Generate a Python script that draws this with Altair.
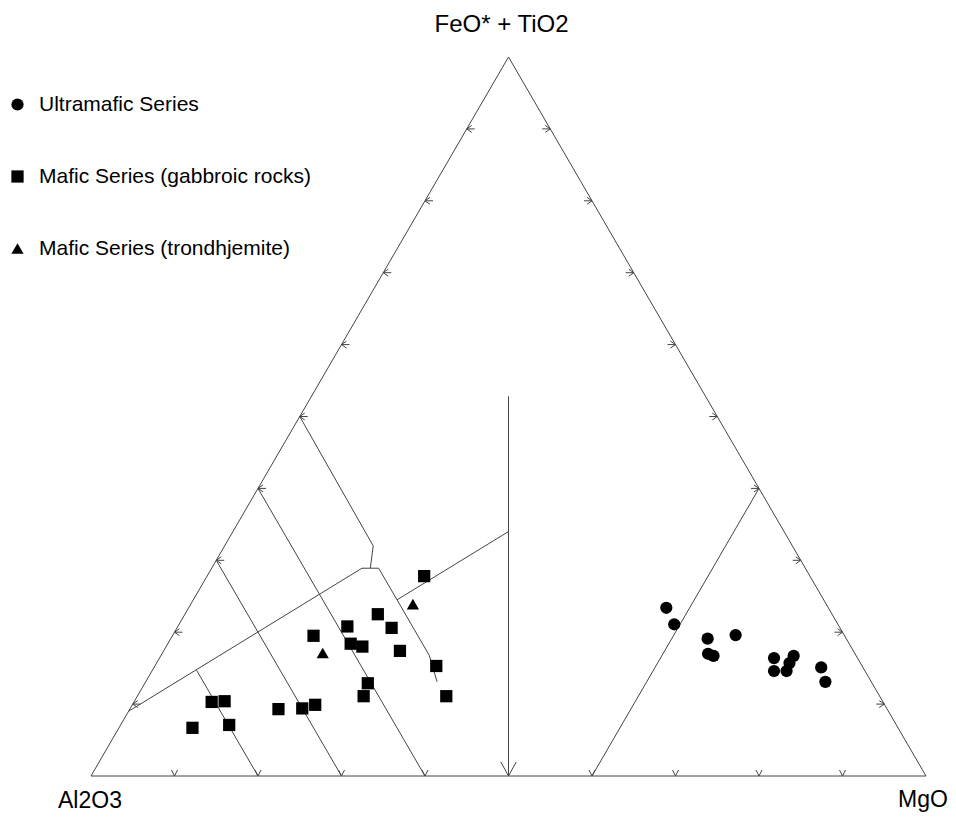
import altair as alt
import pandas as pd

# ---- data: ternary compositions in % (Al2O3, FeO*+TiO2, MgO) ----
series_names = ["Ultramafic Series", "Mafic Series (gabbroic rocks)", "Mafic Series (trondhjemite)"]

ultra_al = [19.4, 19.6, 16.6, 13.0, 17.6, 17.1, 10.0, 10.9, 9.4, 7.5, 8.5, 5.0, 5.5]
ultra_fe = [23.4, 21.1, 19.1, 19.6, 17.0, 16.7, 16.4, 14.6, 14.6, 16.7, 15.7, 15.1, 13.1]
ultra_mg = [57.2, 59.3, 64.3, 67.4, 65.4, 66.2, 73.6, 74.5, 76.0, 75.8, 75.8, 79.9, 81.4]

gab_al = [46.2, 54.4, 58.9, 53.7, 63.6, 59.7, 58.5, 54.3, 51.0, 60.4, 61.8, 51.9, 80.4, 78.8, 68.2, 72.9, 70.0, 79.9, 84.5]
gab_fe = [27.8, 22.5, 20.8, 20.6, 19.5, 18.4, 18.0, 17.4, 15.3, 12.9, 11.1, 11.1, 10.3, 10.4, 9.9, 9.3, 9.4, 7.1, 6.7]
gab_mg = [26.0, 23.1, 20.3, 25.7, 16.9, 21.9, 23.5, 28.3, 33.7, 26.7, 27.1, 37.0, 9.3, 10.8, 21.9, 17.8, 20.6, 13.0, 8.8]

tro_al = [49.5, 63.7]
tro_fe = [23.9, 17.1]
tro_mg = [26.6, 19.2]

# field boundaries: vertices (Al2O3, FeO*+TiO2, MgO)
outline = [(100, 0, 0), (0, 0, 100), (0, 100, 0), (100, 0, 0)]
line_a = [(50, 50, 0), (50.2, 32.0, 17.8), (52.1, 28.9, 19.0)]
line_b1 = [(91, 9, 0), (53.1, 28.9, 18.0), (51.1, 28.9, 20.0), (51.1, 16.8, 32.1), (52.0, 13.1, 34.9)]
line_b2 = [(51.1, 24.5, 24.4), (33.0, 34.0, 33.0)]
line_v = [(23.6, 52.8, 23.6), (50, 0, 50)]
line_c = [(60, 40, 0), (60, 0, 40)]
line_d = [(70, 30, 0), (70, 0, 30)]
line_e = [(80, 14.7, 5.3), (80, 0, 20)]
line_r = [(0, 40, 60), (40, 0, 60)]

tick_values = [10, 20, 30, 40, 50, 60, 70, 80, 90]
arrow_point = [(50, 0, 50)]


def to_xy(fe, mg):
    return (mg + fe / 2.0) / 100.0, fe / 100.0


# ---- build tables ----
pts = []
for name, fes, mgs in [(series_names[0], ultra_fe, ultra_mg),
                       (series_names[1], gab_fe, gab_mg),
                       (series_names[2], tro_fe, tro_mg)]:
    for fe, mg in zip(fes, mgs):
        x, y = to_xy(fe, mg)
        pts.append({"series": name, "x": x, "y": y})
pts_df = pd.DataFrame(pts)

rows = []
for lid, verts in enumerate([outline, line_a, line_b1, line_b2, line_v, line_c, line_d, line_e, line_r]):
    for k, (al, fe, mg) in enumerate(verts):
        x, y = to_xy(fe, mg)
        rows.append({"line": lid, "order": k, "x": x, "y": y})
lines_df = pd.DataFrame(rows)

left_ticks = pd.DataFrame([dict(zip(["x", "y"], to_xy(v, 0))) for v in tick_values])
right_ticks = pd.DataFrame([dict(zip(["x", "y"], to_xy(v, 100 - v))) for v in tick_values])
bottom_ticks = pd.DataFrame([dict(zip(["x", "y"], to_xy(0, v))) for v in tick_values if v != 50])
arrow_df = pd.DataFrame([dict(zip(["x", "y"], to_xy(fe, mg))) for al, fe, mg in arrow_point])

vert_df = pd.DataFrame([
    {"label": "FeO* + TiO2", "x": to_xy(100, 0)[0], "y": to_xy(100, 0)[1]},
    {"label": "Al2O3", "x": to_xy(0, 0)[0], "y": to_xy(0, 0)[1]},
    {"label": "MgO", "x": to_xy(0, 100)[0], "y": to_xy(0, 100)[1]},
])

xs = alt.Scale(domain=[0, 1], nice=False, zero=False)
ys = alt.Scale(domain=[0, 1], nice=False, zero=False)
X = alt.X("x:Q", scale=xs, axis=None)
Y = alt.Y("y:Q", scale=ys, axis=None)

FONT = "Liberation Sans"
LINE_COLOR = "#444444"

lines = alt.Chart(lines_df).mark_line(color=LINE_COLOR, strokeWidth=1).encode(
    x=X, y=Y, detail="line:N", order="order:Q"
)

def tick_layer(df, path, size):
    return alt.Chart(df).mark_point(
        shape=path, size=size, filled=False, color=LINE_COLOR, strokeWidth=1, opacity=1
    ).encode(x=X, y=Y)

ticks_left = tick_layer(left_ticks, "M0,0L1,-0.7M0,0L1,0.7M0,0L1.6,0", 100)
ticks_right = tick_layer(right_ticks, "M0,0L-1,-0.7M0,0L-1,0.7M0,0L-1.6,0", 100)
ticks_bottom = tick_layer(bottom_ticks, "M0,0L-0.6,-1.2M0,0L0.6,-1.2", 100)
arrow = tick_layer(arrow_df, "M0,0L-0.55,-1M0,0L0.55,-1", 784)

points = alt.Chart(pts_df).mark_point(filled=True, opacity=1, color="black", size=150).encode(
    x=X, y=Y,
    shape=alt.Shape("series:N", scale=alt.Scale(domain=series_names, range=["circle", "square", "triangle-up"]),
                    legend=alt.Legend(orient="none", legendX=-84, legendY=37, title=None,
                                      labelFontSize=21, labelFont=FONT, labelColor="black",
                                      labelLimit=0,
                                      symbolSize=150, symbolFillColor="black",
                                      symbolStrokeColor="black", symbolStrokeWidth=0,
                                      rowPadding=50, labelOffset=11)),
)

top_label = alt.Chart(vert_df[vert_df.label == "FeO* + TiO2"]).mark_text(
    font=FONT, fontSize=24, color="black", dy=-25, dx=-7, baseline="alphabetic", align="center"
).encode(x=X, y=Y, text="label:N")
left_label = alt.Chart(vert_df[vert_df.label == "Al2O3"]).mark_text(
    font=FONT, fontSize=23, color="black", dy=32, dx=-1, baseline="alphabetic", align="center"
).encode(x=X, y=Y, text="label:N")
right_label = alt.Chart(vert_df[vert_df.label == "MgO"]).mark_text(
    font=FONT, fontSize=23, color="black", dy=31, dx=-3, baseline="alphabetic", align="center"
).encode(x=X, y=Y, text="label:N")

chart = alt.layer(
    lines, ticks_left, ticks_right, ticks_bottom, arrow, points, top_label, left_label, right_label
).properties(
    width=835, height=719,
    autosize=alt.AutoSizeParams(type="none"),
    padding={"left": 83, "top": 49, "right": 22, "bottom": 38},
).configure_view(strokeWidth=0)

chart.save("out.html", embed_options={"renderer": "svg", "actions": False})
